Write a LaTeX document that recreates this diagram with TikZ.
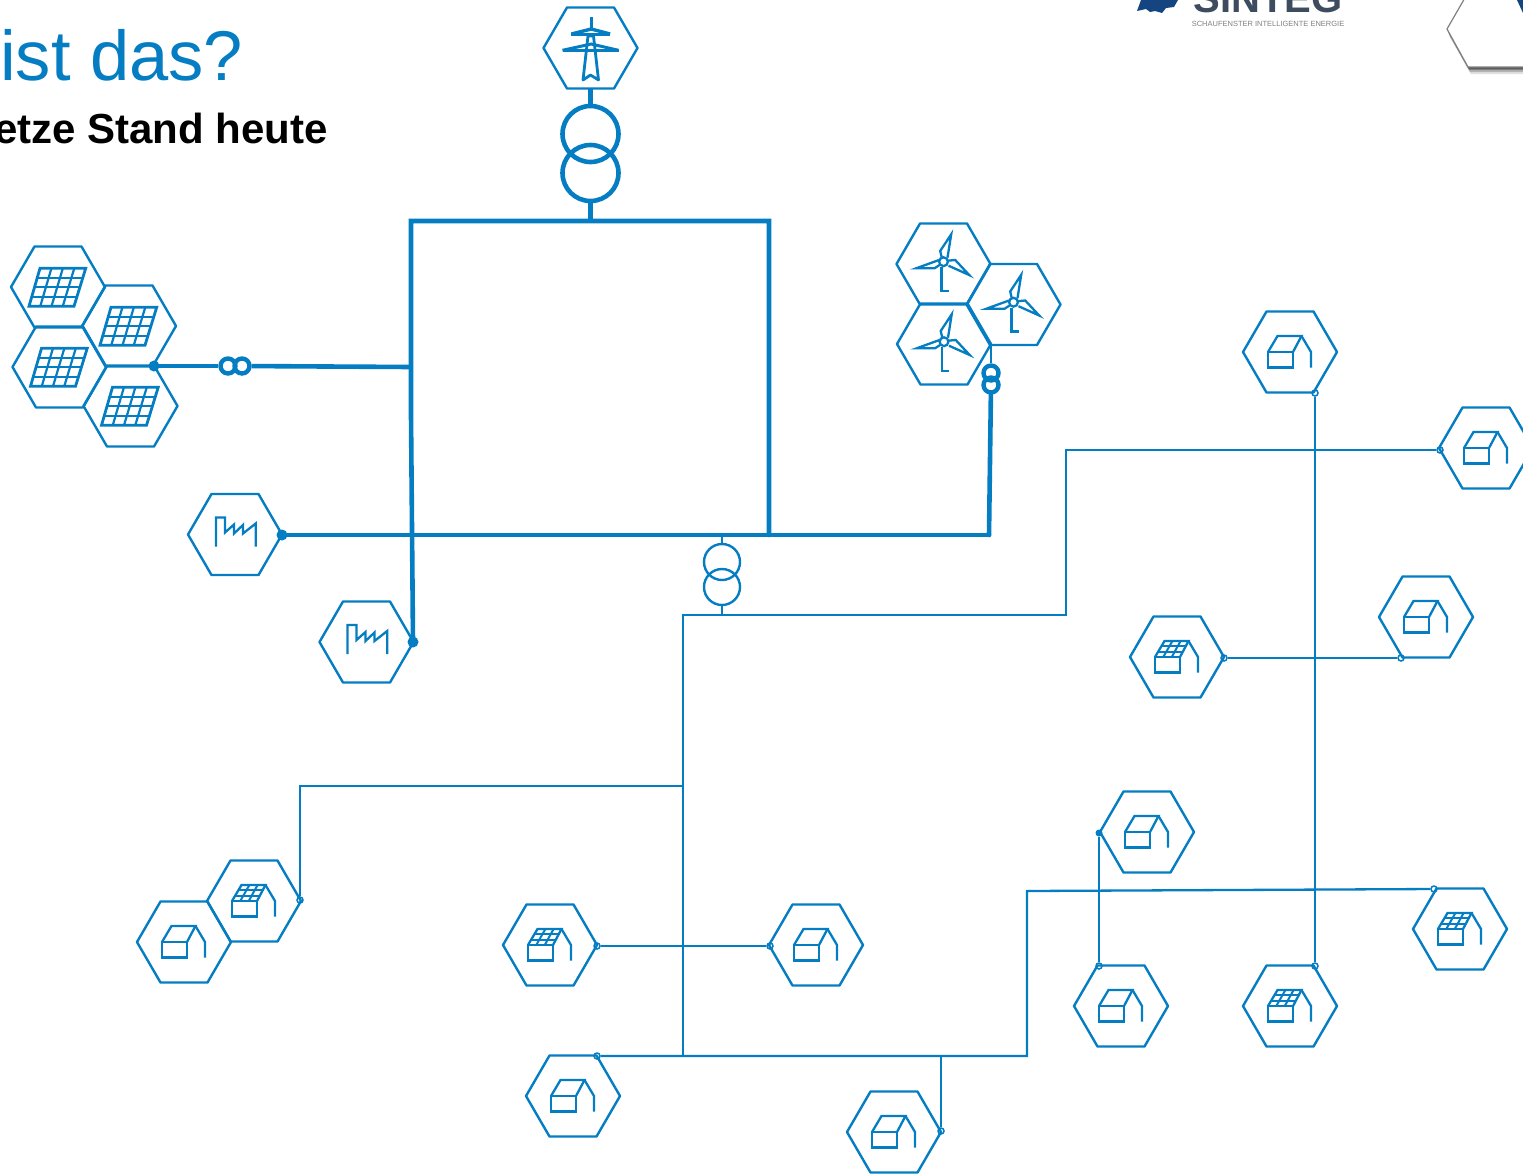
\documentclass[tikz,border=0pt]{standalone}
\usepackage{fontspec}
\setmainfont{Liberation Sans}
\usetikzlibrary{calc,positioning}
\definecolor{netzblue}{rgb}{0.02,0.49,0.76}
\definecolor{logogray}{rgb}{0.24,0.30,0.37}
\definecolor{logoblue}{rgb}{0.08,0.27,0.50}
\tikzset{
  hexline/.style={netzblue,line width=2.4pt,line join=round},
  iconline/.style={netzblue,line width=2.3pt,line join=miter},
  bus/.style={netzblue,line width=4.6pt,line cap=round},
  feeder/.style={netzblue,line width=2.3pt},
  trafo/.style={draw=netzblue,shape=circle,inner sep=0,fill=none},
  bigdot/.style={fill=netzblue,shape=circle,minimum size=11pt,inner sep=0},
  opendot/.style={draw=netzblue,fill=white,shape=circle,minimum size=6pt,line width=1.5pt,inner sep=0},
  smalldot/.style={fill=netzblue,shape=circle,minimum size=7pt,inner sep=0},
  hexa/.pic={\draw[hexline] (-47,0) -- (-23.5,-40.5) -- (23.5,-40.5) -- (47,0) -- (23.5,40.5) -- (-23.5,40.5) -- cycle;},
  houseicon/.pic={
    \draw[iconline] (-22,0) rectangle (3,15.5);
    \draw[iconline] (-22,0) -- (-12.5,-16) -- (11.5,-16) -- (3,0);
    \draw[iconline] (11.5,-16) -- (21,0) -- (21,15.5);},
  househex/.pic={\pic {hexa}; \pic {houseicon};},
  solarhex/.pic={\pic {hexa}; \pic {houseicon};
    \foreach \t in {0.33,0.67} {
      \draw[netzblue,line width=2pt] ($(-22,0)!\t!(3,0)$) -- ($(-12.5,-16)!\t!(11.5,-16)$);
      \draw[netzblue,line width=2pt] ($(-22,0)!\t!(-12.5,-16)$) -- ($(3,0)!\t!(11.5,-16)$);}},
  pvhex/.pic={\pic {hexa};
    \draw[netzblue,line width=2.8pt,line join=miter] (-18,-18.7) -- (27.7,-18.7) -- (16,19.3) -- (-29,19.3) -- cycle;
    \foreach \t in {0.25,0.5,0.75} {
      \draw[netzblue,line width=2.2pt] ($(-18,-18.7)!\t!(27.7,-18.7)$) -- ($(-29,19.3)!\t!(16,19.3)$);
      \draw[netzblue,line width=2.2pt] ($(-18,-18.7)!\t!(-29,19.3)$) -- ($(27.7,-18.7)!\t!(16,19.3)$);}},
  windhex/.pic={\pic {hexa};
    \draw[iconline] (0,-2.3) circle[radius=4.4pt];
    \draw[iconline] (-2,3) -- (-2,27) -- (5,27);
    \draw[iconline] (-1.7,-6.3) -- (-3.3,-13) -- (7.7,-29.7) -- (4,-6.3);
    \draw[iconline] (-4.5,-4) -- (-27.3,4.3) -- (-9,4.3) -- (-4,1);
    \draw[iconline] (4.3,-3.3) -- (11.7,-4) -- (25.7,11) -- (5,1.7);},
  factoryhex/.pic={\pic {hexa};
    \draw[iconline] (-19,12) -- (-19,-17) -- (-10,-17) -- (-10,-2) -- (-1,-10) -- (-1,-1) -- (8,-9.5) -- (8,-1) -- (20.7,-11) -- (20.7,12);},
}
\begin{document}
\begin{tikzpicture}[x=1pt,y=-1pt]
  \useasboundingbox (0,0) rectangle (1523,1173);
  \clip (0,0) rectangle (1523,1173);
  % Title
  \node[netzblue,anchor=base west,inner sep=0,font=\fontsize{70.5}{72}\selectfont] (title) at (0,80) {ist das?};
  \node[black,anchor=base east,inner sep=0,font=\fontsize{42}{42}\selectfont\bfseries] (subtitle) at (328,143) {etze Stand heute};
  % Logo
  \fill[logoblue] (1137,11) -- (1141,0) -- (1178,0) -- (1174,7) -- (1166,8) -- (1162,13) -- (1155,11) -- (1150,12) -- (1146,9) -- cycle;
  \node[logogray,anchor=base,inner sep=0,font=\fontsize{40}{40}\selectfont\bfseries] (logo) at (1268,12) {SINTEG};
  \node[gray,anchor=base,inner sep=0,font=\fontsize{7.5}{8}\selectfont] (logosub) at (1268,26) {SCHAUFENSTER INTELLIGENTE ENERGIE};
  \foreach \d/\o in {7/0.12,5/0.2,3/0.3,1.5/0.4}
    \fill[black,opacity=\o] (1447+\d*0.3,29+\d) -- (1468+\d*0.4,67+\d) -- (1540,67+\d) -- (1540,29) -- cycle;
  \draw[gray,fill=white,line width=1.2pt] (1447,29) -- (1470,-11) -- (1540,-11) -- (1540,67) -- (1468,67) -- cycle;
  \fill[logoblue] (1517,0) -- (1523,0) -- (1523,13) -- cycle;
  % Substation
  \pic (tower) at (590.5,48) {hexa};
  \begin{scope}[shift={(590.5,48)}]
    \draw[netzblue,line width=3.4pt] (-19,-14) -- (0.7,-19) -- (19.6,-14);
    \draw[netzblue,line width=3pt] (-19.5,-14) -- (19.5,-14);
    \draw[netzblue,line width=3.4pt] (-28,2.3) -- (28,2.3);
    \draw[netzblue,line width=3pt] (-28,2.3) -- (0.7,-4) -- (28,2.3);
    \draw[netzblue,line width=3.4pt] (0.7,-31) -- (0.7,-19);
    \draw[netzblue,line width=2.8pt,line join=round] (-7.5,32) -- (-2.5,-12) -- (3,-12) -- (8,32) -- (0,27) -- cycle;
  \end{scope}
  \coordinate (towerS) at (590.5,88);
  \coordinate (boxNW) at (411,221);
  \coordinate (boxNE) at (769,221);
  \coordinate (boxSE) at (769,535);
  \coordinate (boxTop) at (590.5,221);
  \node[trafo,line width=4.6pt,minimum size=56pt] (trafoA) at (590.5,134) {};
  \node[trafo,line width=4.6pt,minimum size=56pt] (trafoB) at (590.5,173) {};
  \draw[bus,line cap=butt] (towerS) -- (trafoA);
  \draw[bus,line cap=butt] (trafoB) -- (boxTop);
  % High voltage ring
  \node[bigdot] (pvDot) at (154,366) {};
  \node[bigdot] (facDotA) at (282,535) {};
  \node[bigdot] (facDotB) at (413,642) {};
  \coordinate (windCorner) at (989,535);
  \coordinate (boxBend) at (411,415);
  \coordinate (boxWest) at (411,367);
  \coordinate (windTop) at (991,346);
  \draw[bus] (boxSE) -- (boxNE) -- (boxNW) -- (boxBend) -- (facDotB.center);
  \draw[bus] (facDotA.center) -- (windCorner);
  \node[trafo,line width=4.4pt,minimum size=15pt] (trafoPvA) at (228,366) {};
  \node[trafo,line width=4.4pt,minimum size=15pt] (trafoPvB) at (242,366) {};
  \draw[bus,line cap=butt] (pvDot.center) -- (trafoPvA);
  \draw[bus,line cap=butt] (trafoPvB) -- (boxWest);
  \node[trafo,line width=4.4pt,minimum size=15pt] (trafoWindA) at (991,373) {};
  \node[trafo,line width=4.4pt,minimum size=15pt] (trafoWindB) at (991,385) {};
  \draw[netzblue,line width=2.4pt] (windTop) -- (trafoWindA);
  \draw[bus] (windCorner) -- (trafoWindB);
  % Low voltage feeders
  \coordinate (busTap) at (722,533);
  \coordinate (lvTop) at (722,615);
  \node[trafo,line width=2.4pt,minimum size=36pt] (trafoLvA) at (722,562) {};
  \node[trafo,line width=2.4pt,minimum size=36pt] (trafoLvB) at (722,587) {};
  \draw[feeder] (busTap) -- (trafoLvA);
  \draw[feeder] (trafoLvB) -- (lvTop);
  \coordinate (lvCorner) at (683,615);
  \coordinate (lvSouth) at (683,1056);
  \coordinate (lvWest) at (683,786);
  \coordinate (eastA) at (1066,615);
  \coordinate (eastB) at (1066,450);
  \coordinate (southA) at (1027,1056);
  \coordinate (southB) at (1027,891);
  \coordinate (southTee) at (941,1056);
  \node[opendot] (houseNE) at (1440,450) {};
  \node[opendot] (houseN) at (1315,393) {};
  \node[opendot] (solarS) at (1315,966) {};
  \node[opendot] (solarE) at (1224,658) {};
  \node[opendot] (houseE) at (1401,658) {};
  \node[opendot] (solarW) at (300,900) {};
  \node[opendot] (solarC) at (597,946) {};
  \node[opendot] (houseC) at (770,946) {};
  \node[opendot] (houseB) at (597,1056) {};
  \node[opendot] (houseBB) at (941,1131) {};
  \node[opendot] (solarSE) at (1434,889) {};
  \node[smalldot] (houseM) at (1099,833) {};
  \node[opendot] (houseSS) at (1099,966) {};
  \draw[feeder] (lvSouth) -- (lvCorner) -- (lvTop);
  \draw[feeder] (lvTop) -- (eastA) -- (eastB) -- (houseNE);
  \draw[feeder] (houseN) -- (solarS);
  \draw[feeder] (solarE) -- (houseE);
  \draw[feeder] (solarW) |- (lvWest);
  \draw[feeder] (solarC) -- (houseC);
  \draw[feeder] (houseB) -- (southA) -- (southB) -- (solarSE);
  \draw[feeder] (southTee) -- (houseBB);
  \draw[feeder] (houseM) -- (houseSS);
  % Generators
  \foreach \x/\y in {58/287,129/326,59.5/367,130.5/406} \pic at (\x,\y) {pvhex};
  \foreach \x/\y in {943.5/264,1013.5/304.5,944/344} \pic at (\x,\y) {windhex};
  \foreach \x/\y in {235/534.5,366.5/642} \pic at (\x,\y) {factoryhex};
  % Houses
  \foreach \x/\y in {1290/352,1486/448,1426/617,1147/832,1121/1006,573/1096,894/1132,184/942,816/945} \pic at (\x,\y) {househex};
  \foreach \x/\y in {1177/657,1460/929,1290/1006,550/945,254/901} \pic at (\x,\y) {solarhex};
\end{tikzpicture}
\end{document}
